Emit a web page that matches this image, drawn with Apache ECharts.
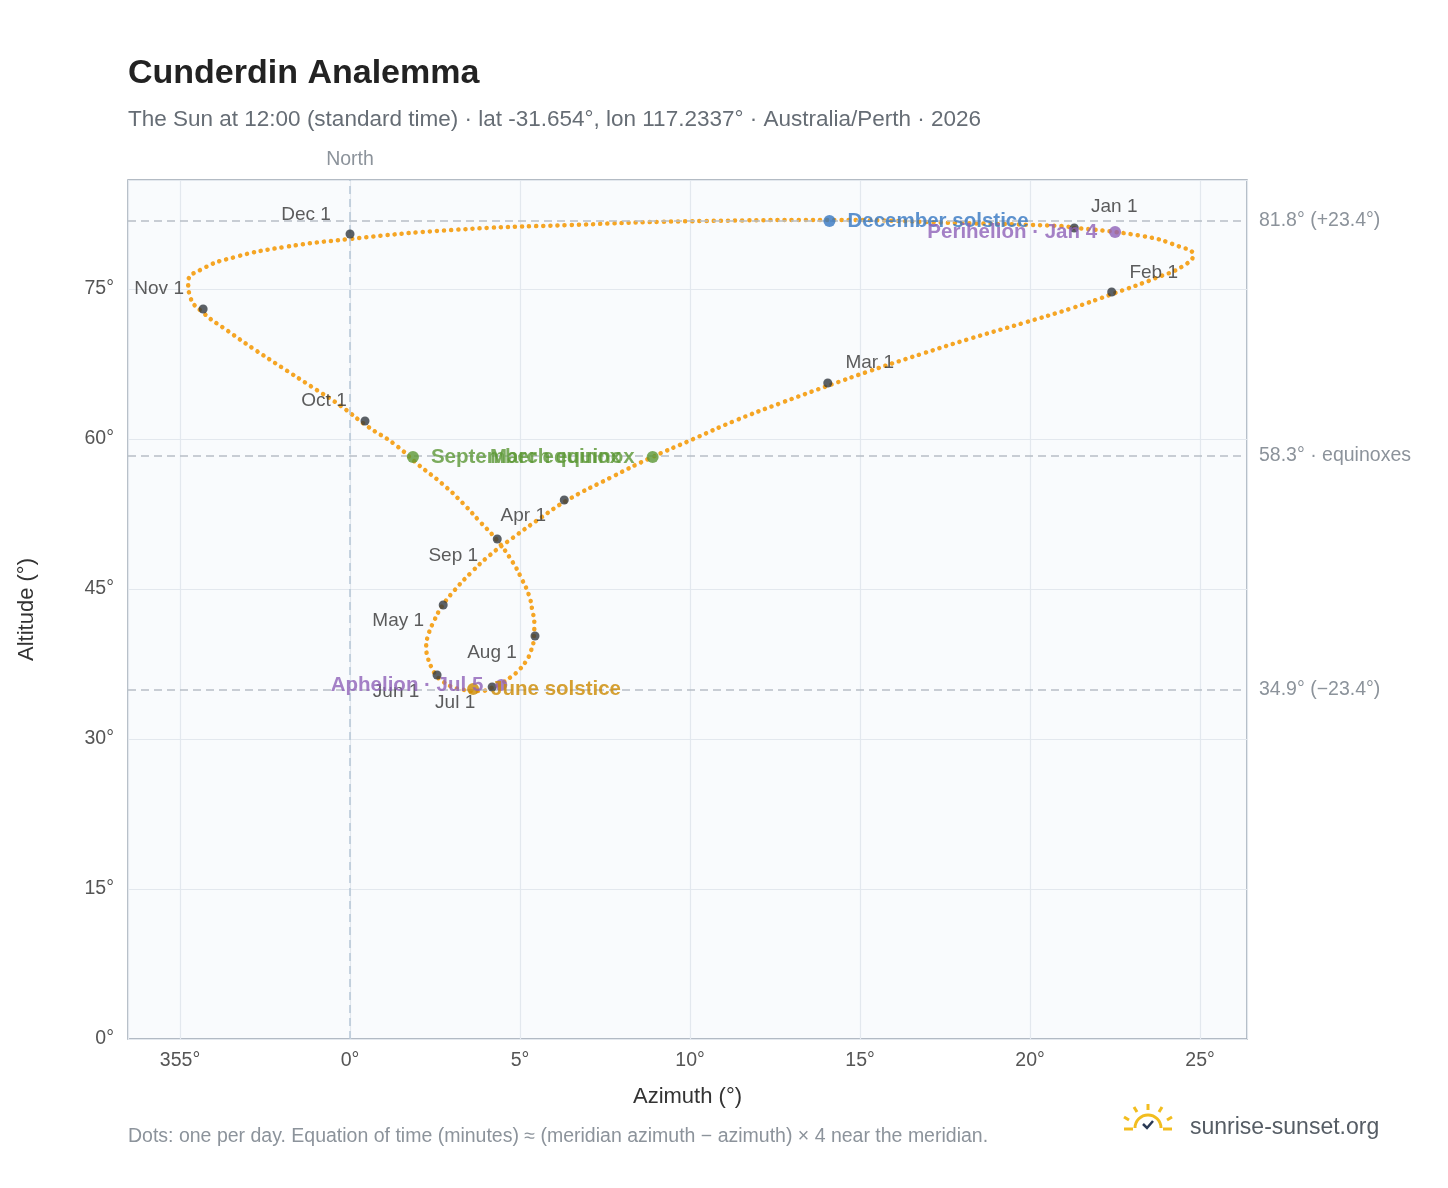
<!DOCTYPE html>
<html><head><meta charset="utf-8">
<script src="https://cdn.jsdelivr.net/npm/echarts@6/dist/echarts.min.js"></script>
<style>html,body{margin:0;padding:0;background:#fff}#c{width:1448px;height:1188px}</style>
</head><body><div id="c"></div>
<script>
// Sun position at 12:00 standard time, every 5 days (1st,6th,11th,16th,21st,26th of each month)
const pathDates = ["Jan 1","Jan 6","Jan 11","Jan 16","Jan 21","Jan 26","Feb 1","Feb 6","Feb 11","Feb 16","Feb 21","Feb 26","Mar 1","Mar 6","Mar 11","Mar 16","Mar 21","Mar 26","Apr 1","Apr 6","Apr 11","Apr 16","Apr 21","Apr 26","May 1","May 6","May 11","May 16","May 21","May 26","Jun 1","Jun 6","Jun 11","Jun 16","Jun 21","Jun 26","Jul 1","Jul 6","Jul 11","Jul 16","Jul 21","Jul 26","Aug 1","Aug 6","Aug 11","Aug 16","Aug 21","Aug 26","Sep 1","Sep 6","Sep 11","Sep 16","Sep 21","Sep 26","Oct 1","Oct 6","Oct 11","Oct 16","Oct 21","Oct 26","Nov 1","Nov 6","Nov 11","Nov 16","Nov 21","Nov 26","Dec 1","Dec 6","Dec 11","Dec 16","Dec 21","Dec 26","Dec 31"];
const pathAz = [21.3,23.3,24.35,24.8,24.5,23.7,22.5,21.2,19.8,18.3,16.8,15.2,14.2,12.75,11.3,10.1,8.8,7.7,6.4,5.56,4.78,4.1,3.55,3.08,2.71,2.47,2.30,2.24,2.29,2.39,2.55,2.75,3.01,3.27,3.57,3.85,4.15,4.47,4.73,4.97,5.18,5.32,5.41,5.42,5.36,5.26,5.05,4.78,4.33,3.83,3.31,2.72,2.02,1.32,0.50,-0.29,-1.14,-1.98,-2.83,-3.59,-4.31,-4.70,-4.76,-4.35,-3.38,-1.92,0.0,2.99,6.46,10.4,14.3,17.9,20.9];
const pathAlt = [81.1,80.3,79.3,78.4,77.3,76.1,74.6,73.05,71.6,70.1,68.5,66.7,65.5,63.7,61.8,60.0,58.05,56.2,53.9,52.0,50.1,48.35,46.6,44.9,43.3,41.8,40.4,39.2,38.1,37.2,36.3,35.7,35.2,34.97,34.8,34.8,35.1,35.6,36.2,36.9,37.8,38.8,40.2,41.5,42.9,44.4,46.0,47.7,49.85,51.7,53.6,55.5,57.4,59.45,61.3,63.35,65.25,67.1,69.0,70.8,72.6,74.2,75.7,77.0,78.2,79.2,80.0,80.9,81.4,81.8,81.9,81.6,81.3];

const monthNames = ["Jan 1","Feb 1","Mar 1","Apr 1","May 1","Jun 1","Jul 1","Aug 1","Sep 1","Oct 1","Nov 1","Dec 1"];
const monthAz = [21.3,22.4,14.05,6.3,2.74,2.56,4.18,5.44,4.33,0.44,-4.32,0.0];
const monthAlt = [81.1,74.7,65.6,53.9,43.4,36.4,35.2,40.3,50.0,61.8,73.0,80.5];
const monthLabelOffset = [[40,-2],[42,0],[42,-1],[-41,35],[-45,35],[-41,36],[-37,35],[-43,36],[-44,36],[-41,-1],[-44,-1],[-44,0]];

const eventNames = ["December solstice","June solstice","March equinox","September equinox","Perihelion · Jan 4","Aphelion · Jul 5"];
const eventAz = [14.1,3.62,8.9,1.85,22.5,4.45];
const eventAlt = [81.8,35.0,58.2,58.2,80.7,35.4];
const eventColors = ["#3577c2","#cc8a00","#5b9734","#5b9734","#8e62b8","#8e62b8"];
const eventSide = ["right","right","left","right","left","left"];

const refLines = [81.8,58.3,34.9];
const refLabels = ["81.8° (+23.4°)","58.3° · equinoxes","34.9° (−23.4°)"];
const yTicks = [0,15,30,45,60,75];

const chart = echarts.init(document.getElementById('c'));
const loop = pathAz.map((a,i)=>[a,pathAlt[i]]);
loop.push([pathAz[0],pathAlt[0]]);
const Y='#f2bd1f';

chart.setOption({
  animation:false,
  textStyle:{fontFamily:'Liberation Sans, Arial, sans-serif'},
  title:[
    {text:'Cunderdin Analemma',left:123,top:52,textStyle:{fontSize:34,fontWeight:'bold',color:'#222'}},
    {text:'The Sun at 12:00 (standard time) · lat -31.654°, lon 117.2337° · Australia/Perth · 2026',left:123,top:103,textStyle:{fontSize:22.5,fontWeight:'normal',color:'#666d75'}},
    {text:'Dots: one per day. Equation of time (minutes) ≈ (meridian azimuth − azimuth) × 4 near the meridian.',left:123,top:1122,textStyle:{fontSize:19.5,fontWeight:'normal',color:'#8c939b'}},
    {text:'sunrise-sunset.org',left:1185,top:1111,textStyle:{fontSize:23,fontWeight:'normal',color:'#555c64'}}
  ],
  grid:{left:128,right:201,top:180,bottom:149,show:true,backgroundColor:'#f9fbfd',borderColor:'#9aa5b1',borderWidth:1.5},
  xAxis:{type:'value',min:-6.53,max:26.38,splitNumber:7,
    name:'Azimuth (°)',nameLocation:'middle',nameGap:47,nameTextStyle:{fontSize:22,color:'#333'},
    axisLine:{show:false},axisTick:{show:false},
    axisLabel:{fontSize:19.5,color:'#555',margin:12,formatter:v=>{const r=Math.round(v);if(Math.abs(v-r)>1e-6||r%5!==0)return '';return (r<0?r+360:r)+'°';}},
    splitLine:{lineStyle:{color:'#e3e8ee',width:1.2}}},
  yAxis:{type:'value',min:0,max:85.9,interval:15,
    name:'Altitude (°)',nameLocation:'middle',nameGap:90,nameRotate:90,nameTextStyle:{fontSize:22,color:'#333'},
    axisLine:{show:false},axisTick:{show:false},
    axisLabel:{fontSize:19.5,color:'#555',margin:14,formatter:v=>yTicks.includes(v)?v+'°':''},
    splitLine:{lineStyle:{color:'#e3e8ee',width:1.2}}},
  graphic:[
    {type:'arc',shape:{cx:1148,cy:1128,r:13,startAngle:Math.PI,endAngle:2*Math.PI},style:{stroke:Y,lineWidth:3,fill:null}},
    {type:'line',shape:{x1:1124,y1:1129,x2:1133,y2:1129},style:{stroke:Y,lineWidth:3}},
    {type:'line',shape:{x1:1163,y1:1129,x2:1172,y2:1129},style:{stroke:Y,lineWidth:3}},
    {type:'line',shape:{x1:1148,y1:1104,x2:1148,y2:1110},style:{stroke:Y,lineWidth:3}},
    {type:'line',shape:{x1:1134,y1:1107,x2:1137,y2:1112},style:{stroke:Y,lineWidth:3}},
    {type:'line',shape:{x1:1162,y1:1107,x2:1159,y2:1112},style:{stroke:Y,lineWidth:3}},
    {type:'line',shape:{x1:1124,y1:1117,x2:1129,y2:1120},style:{stroke:Y,lineWidth:3}},
    {type:'line',shape:{x1:1172,y1:1117,x2:1167,y2:1120},style:{stroke:Y,lineWidth:3}},
    {type:'polyline',shape:{points:[[1143,1124],[1147,1128],[1153,1121]]},style:{stroke:'#2b3a55',lineWidth:2.5,fill:null}}
  ],
  series:[
    {type:'line',data:loop,smooth:0.5,showSymbol:false,symbol:'none',
     lineStyle:{color:'#f5a524',width:4.5,type:[0.1,7],cap:'round'},z:3,
     markLine:{silent:true,symbol:'none',
       data:refLines.map((v,i)=>({yAxis:v,label:{formatter:refLabels[i]}})).concat([{xAxis:0,lineStyle:{color:'#b6c6d6'},label:{formatter:'North',position:'end',distance:10,color:'#8c939b'}}]),
       lineStyle:{color:'#b8bec6',type:[8,5],width:1.5},
       label:{position:'end',distance:12,fontSize:19.5,color:'#8c939b'}}},
    {type:'scatter',symbolSize:9,z:5,itemStyle:{color:'#333a40'},
     data:monthNames.map((n,i)=>({value:[monthAz[i],monthAlt[i]],label:{show:true,formatter:n,position:'top',offset:monthLabelOffset[i],fontSize:19,color:'#333'}}))},
    {type:'scatter',symbolSize:12,z:6,
     data:eventNames.map((n,i)=>({value:[eventAz[i],eventAlt[i]],itemStyle:{color:eventColors[i]},
       label:{show:true,formatter:n,position:eventSide[i],distance:12,fontSize:20.5,fontWeight:'bold',color:eventColors[i]}}))}
  ]
});
</script></body></html>
